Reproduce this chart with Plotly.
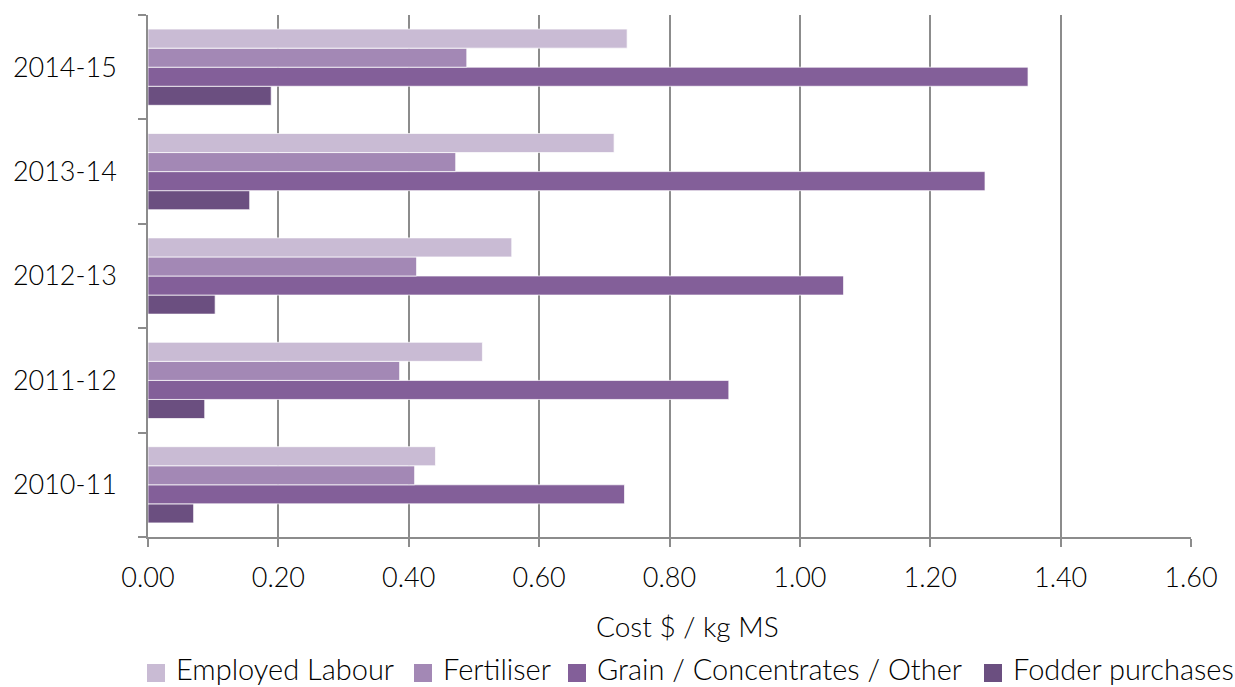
import plotly.graph_objects as go

# Dairy farm input costs per kg milk solids, by season
seasons = ["2010-11", "2011-12", "2012-13", "2013-14", "2014-15"]
employed_labour = [0.441, 0.513, 0.558, 0.715, 0.735]
fertiliser = [0.409, 0.386, 0.412, 0.472, 0.489]
grain_concentrates_other = [0.731, 0.891, 1.067, 1.284, 1.350]
fodder_purchases = [0.070, 0.087, 0.103, 0.156, 0.189]

x_ticks = [0.0, 0.2, 0.4, 0.6, 0.8, 1.0, 1.2, 1.4, 1.6]
x_tick_text = [f"{v:.2f}" for v in x_ticks]

FONT = "Lato"
TEXT = "#000000"
GRID = "#8c8c8c"

W, H = 1235, 687
ML, MR, MT, MB = 148, 44, 15, 150
PLOT_W = W - ML - MR
PLOT_H = H - MT - MB


def px_x(px):
    """Page x pixel -> paper fraction."""
    return (px - ML) / PLOT_W


def px_y(py):
    """Page y pixel -> paper fraction."""
    return (H - MB - py) / PLOT_H


# Bottom-to-top within each group: fodder first so labour sits on top
series = [
    ("Fodder purchases", fodder_purchases, "#6b4f80"),
    ("Grain / Concentrates / Other", grain_concentrates_other, "#835f99"),
    ("Fertiliser", fertiliser, "#a388b5"),
    ("Employed Labour", employed_labour, "#c9bbd4"),
]

fig = go.Figure()
for name, vals, color in series:
    fig.add_trace(go.Bar(
        y=seasons, x=vals, name=name, orientation="h", showlegend=False,
        marker=dict(color=color, line=dict(color="rgba(255,255,255,0.7)", width=1)),
    ))

# Legend row along the bottom: swatch + label per series, left to right
legend_row = [
    ("Employed Labour", "#c9bbd4", 147),
    ("Fertiliser", "#a388b5", 414),
    ("Grain / Concentrates / Other", "#835f99", 568),
    ("Fodder purchases", "#6b4f80", 984),
]
SW = 18
SWATCH_Y = 673
LABEL_Y = 668
shapes, annotations = [], []
for label, color, left in legend_row:
    shapes.append(dict(
        type="rect", xref="paper", yref="paper",
        x0=px_x(left), x1=px_x(left + SW),
        y0=px_y(SWATCH_Y + SW / 2), y1=px_y(SWATCH_Y - SW / 2),
        fillcolor=color, line=dict(width=0),
    ))
    annotations.append(dict(
        text=label, xref="paper", yref="paper",
        x=px_x(left + SW + 9), y=px_y(LABEL_Y),
        xanchor="left", yanchor="middle", showarrow=False,
        font=dict(family=FONT, size=29, color=TEXT, weight=300),
    ))

annotations.append(dict(
    text="Cost $ / kg MS", xref="paper", yref="paper",
    x=px_x(687), y=px_y(626),
    xanchor="center", yanchor="middle", showarrow=False,
    font=dict(family=FONT, size=28, color=TEXT, weight=300),
))

fig.update_layout(
    width=W, height=H,
    margin=dict(l=ML, r=MR, t=MT, b=MB),
    paper_bgcolor="white", plot_bgcolor="white",
    barmode="group", bargap=0.27, bargroupgap=0,
    font=dict(family=FONT, size=27, color=TEXT, weight=300),
    showlegend=False,
    xaxis=dict(
        range=[0, 1.6], tickvals=x_ticks, ticktext=x_tick_text,
        showgrid=True, gridcolor=GRID, gridwidth=1.5,
        showline=True, linecolor=GRID, linewidth=1.5,
        ticks="outside", ticklen=8, tickcolor=GRID, tickwidth=1.5,
        ticklabelstandoff=8,
        tickfont=dict(family=FONT, size=27, color=TEXT, weight=300),
        zeroline=False, fixedrange=True,
    ),
    yaxis=dict(
        type="category", categoryorder="array", categoryarray=seasons,
        showgrid=False, showline=True, linecolor=GRID, linewidth=1.5,
        ticks="outside", tickson="boundaries", ticklen=8,
        tickcolor=GRID, tickwidth=1.5, ticklabelstandoff=24,
        tickfont=dict(family=FONT, size=27, color=TEXT, weight=300),
        fixedrange=True,
    ),
    shapes=shapes,
    annotations=annotations,
)

fig.write_html("out.html")
